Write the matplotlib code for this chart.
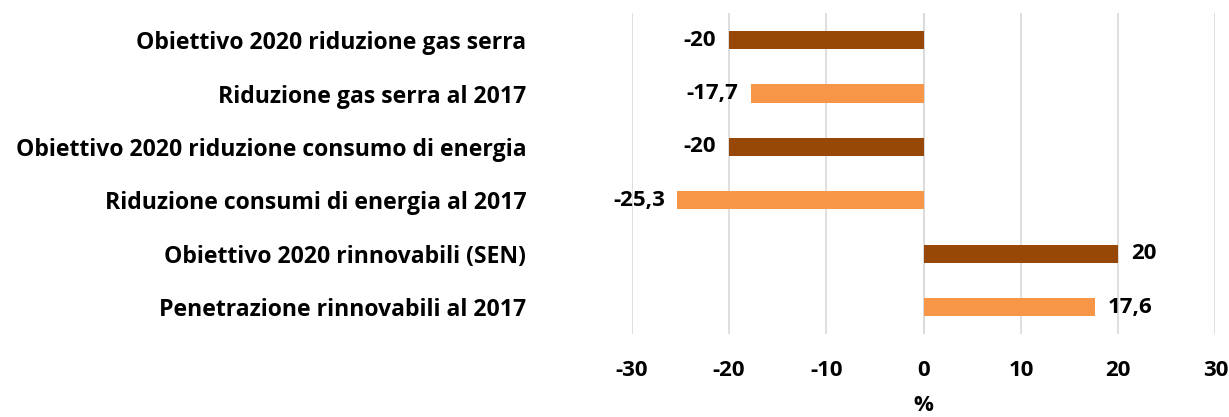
import matplotlib.pyplot as plt

labels = [
    "Obiettivo 2020 riduzione gas serra",
    "Riduzione gas serra al 2017",
    "Obiettivo 2020 riduzione consumo di energia",
    "Riduzione consumi di energia al 2017",
    "Obiettivo 2020 rinnovabili (SEN)",
    "Penetrazione rinnovabili al 2017",
]
values = [-20, -17.7, -20, -25.3, 20, 17.6]
value_text = ["-20", "-17,7", "-20", "-25,3", "20", "17,6"]
ticks = [-30, -20, -10, 0, 10, 20, 30]

dark = "#974706"
light = "#F79646"
colors = [dark, light, dark, light, dark, light]

plt.rcParams["font.family"] = ["Open Sans", "DejaVu Sans"]
fs = 16
wt = "bold"

fig = plt.figure(figsize=(12.29, 4.17), dpi=100)
ax = fig.add_axes([0.514, 0.199, 0.475, 0.769])

y = list(range(len(labels)))
ax.barh(y, values, height=0.34, color=colors, zorder=3)

for yi, v, t in zip(y, values, value_text):
    if v < 0:
        ax.text(v - 1.3, yi, t, ha="right", va="center", fontsize=fs, fontweight=wt)
    else:
        ax.text(v + 1.3, yi, t, ha="left", va="center", fontsize=fs, fontweight=wt)

ax.set_ylim(len(labels) - 0.5, -0.5)
ax.set_xlim(-30, 30)
ax.set_xticks(ticks)
ax.set_xticklabels([str(t) for t in ticks], fontsize=fs, fontweight=wt)
ax.set_yticks(y)
ax.set_yticklabels(labels, fontsize=16.6, fontweight=wt)
ax.tick_params(axis="both", length=0)
ax.tick_params(axis="x", pad=19)
ax.tick_params(axis="y", pad=76)
ax.set_xlabel("%", fontsize=fs, fontweight=wt, labelpad=10)

for s in ax.spines.values():
    s.set_visible(False)
ax.grid(axis="x", color="#D9D9D9", linewidth=1.2, zorder=0)
ax.axvline(0, color="#D9D9D9", linewidth=1.2, zorder=1)

fig.savefig("out.png", dpi=100, facecolor="white")
